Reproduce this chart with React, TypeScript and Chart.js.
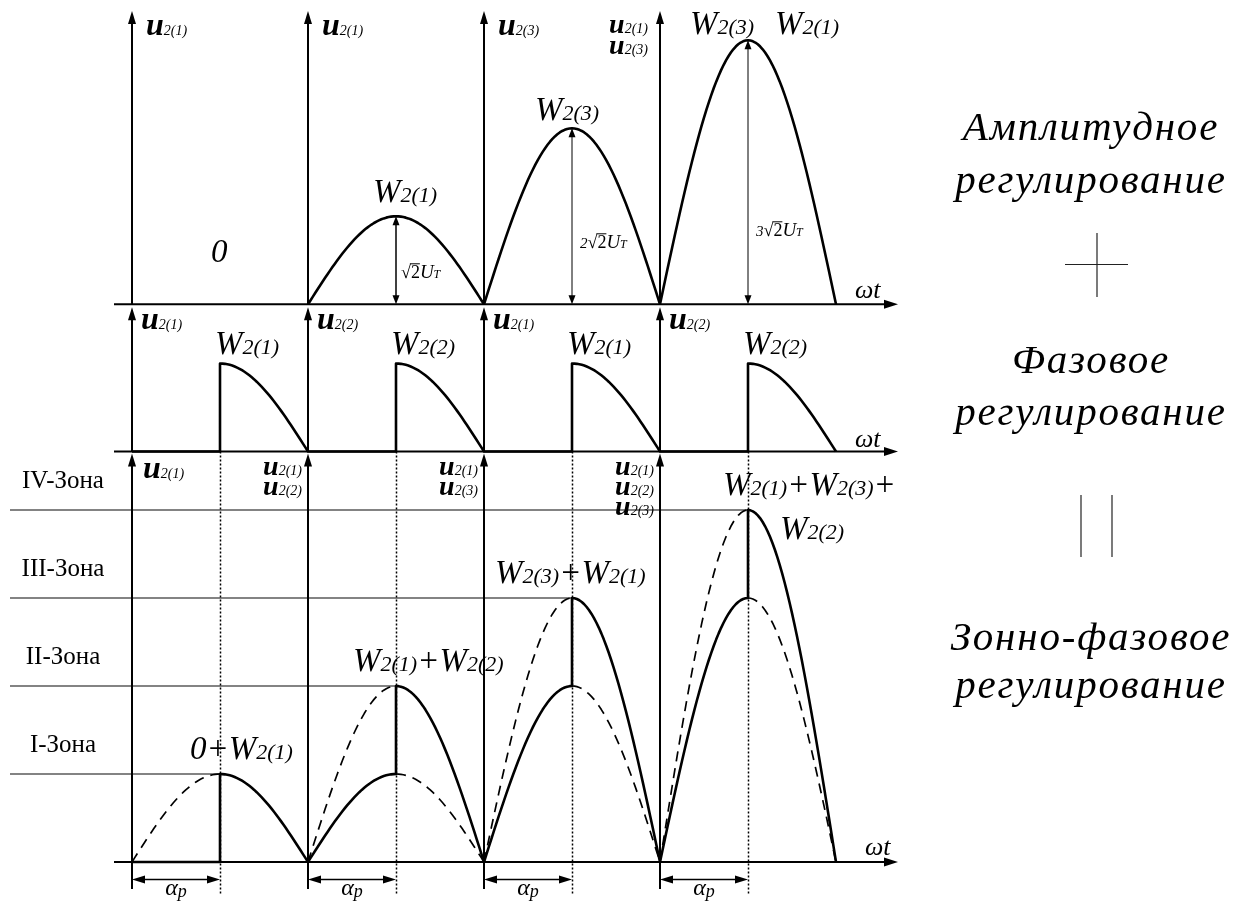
import { useEffect, useRef } from "react";
import { Chart, registerables } from "chart.js";

Chart.register(...registerables);

const WIDTH = 1247;
const HEIGHT = 903;

// ---------------- data ----------------
// control intervals, ωt measured in half-periods (units of π)
const halfPeriods = [0, 1, 2, 3];
// control angle αp, in half-periods
const firingAngle = 0.5;
// amplitude regulation: output amplitude of each interval, in units of √2·U_T
const amplitudeLevels = [0, 1, 2, 3];
// phase regulation: amplitude of the conducting winding
const phaseLevels = [1, 1, 1, 1];
// zone-phase regulation: amplitude before / after the firing instant
const zoneLow = [0, 1, 2, 3];
const zoneHigh = [1, 2, 3, 4];
const zoneNames = ["I-Зона", "II-Зона", "III-Зона", "IV-Зона"];

const amplitudeAxisLabels = [["u2(1)"], ["u2(1)"], ["u2(3)"], ["u2(1)", "u2(3)"]];
const amplitudePeakLabels = [["0"], ["W2(1)"], ["W2(3)"], ["W2(3)", "W2(1)"]];
const phaseAxisLabels = ["u2(1)", "u2(2)", "u2(1)", "u2(2)"];
const phasePeakLabels = ["W2(1)", "W2(2)", "W2(1)", "W2(2)"];
const zoneAxisLabels = [["u2(1)"], ["u2(1)", "u2(2)"], ["u2(1)", "u2(3)"], ["u2(1)", "u2(2)", "u2(3)"]];
const zonePeakLabels = [["0+W2(1)"], ["W2(1)+W2(2)"], ["W2(3)+W2(1)"], ["W2(1)+W2(3)+", "W2(2)"]];
const modeTitles = [
  ["Амплитудное", "регулирование"],
  ["Фазовое", "регулирование"],
  ["Зонно-фазовое", "регулирование"],
];
const timeLabel = "ωt";
const angleLabel = ["α", "p"];

// ---------------- layout ----------------
const ORIGIN_PX = 132; // pixel of ωt = 0
const HALF_PX = 176; // pixels per half-period
const BASE_PX = 862; // pixel of the lowest time axis
const UNIT_PX = 88; // pixels per √2·U_T

const X_MIN = -ORIGIN_PX / HALF_PX;
const X_MAX = (WIDTH - ORIGIN_PX) / HALF_PX;
const Y_MIN = -(HEIGHT - BASE_PX) / UNIT_PX;
const Y_MAX = BASE_PX / UNIT_PX;

// vertical offsets of the three stacked diagrams (value units)
const BASE_ZONE = 0;
const BASE_PHASE = (BASE_PX - 451.5) / UNIT_PX;
const BASE_AMP = (BASE_PX - 304.3) / UNIT_PX;

const SERIF = '"Liberation Serif", "Times New Roman", serif';
const font = (style: string, size: number) => `${style} ${size}px ${SERIF}`;
const U_BIG = font("italic bold", 32);
const U_SMALL = font("italic bold", 28);
const U_SUB = font("italic", 14);
const W_MAIN = font("italic", 33);
const W_SUB = font("italic", 22);

// ---------------- curve helpers ----------------
type Pt = { x: number; y: number | null };
const STEPS = 72;

function sineArc(k: number, from: number, to: number, amp: number, base: number): Pt[] {
  const n = Math.max(2, Math.round((to - from) * STEPS));
  const pts: Pt[] = [];
  for (let i = 0; i <= n; i++) {
    const p = from + ((to - from) * i) / n;
    pts.push({ x: k + p, y: base + amp * Math.sin(Math.PI * p) });
  }
  return pts;
}
const gap = (x: number): Pt => ({ x, y: null });

function amplitudeCurve(): Pt[] {
  const pts: Pt[] = [];
  halfPeriods.forEach((k, i) => {
    if (amplitudeLevels[i] > 0) pts.push(...sineArc(k, 0, 1, amplitudeLevels[i], BASE_AMP), gap(k + 1));
  });
  return pts;
}

function phaseCurve(): Pt[] {
  const pts: Pt[] = [];
  halfPeriods.forEach((k, i) => {
    pts.push({ x: k, y: BASE_PHASE }, { x: k + firingAngle, y: BASE_PHASE });
    pts.push(...sineArc(k, firingAngle, 1, phaseLevels[i], BASE_PHASE));
  });
  return pts;
}

function zoneSolid(): Pt[] {
  const pts: Pt[] = [];
  halfPeriods.forEach((k, i) => {
    pts.push(...sineArc(k, 0, firingAngle, zoneLow[i], BASE_ZONE));
    pts.push(...sineArc(k, firingAngle, 1, zoneHigh[i], BASE_ZONE));
  });
  return pts;
}

function zoneDashed(): Pt[] {
  const pts: Pt[] = [];
  halfPeriods.forEach((k, i) => {
    pts.push(...sineArc(k, 0, firingAngle, zoneHigh[i], BASE_ZONE), gap(k + firingAngle));
    if (zoneLow[i] > 0) pts.push(...sineArc(k, firingAngle, 1, zoneLow[i], BASE_ZONE), gap(k + 1));
  });
  return pts;
}

// ---------------- text helpers ----------------
type Run = { text: string; font: string; dy?: number; overline?: boolean };

function symbolRuns(label: string, uFont: string): Run[] {
  const runs: Run[] = [];
  const re = /([Wu])(\d\(\d\))|([^Wu]+)/g;
  let m: RegExpExecArray | null;
  while ((m = re.exec(label))) {
    if (m[1] === "u") runs.push({ text: "u", font: uFont }, { text: m[2], font: U_SUB });
    else if (m[1] === "W") runs.push({ text: "W", font: W_MAIN }, { text: m[2], font: W_SUB });
    else runs.push({ text: m[3], font: W_MAIN });
  }
  return runs;
}

function drawRuns(ctx: CanvasRenderingContext2D, runs: Run[], x: number, y: number, align = "left") {
  const widths = runs.map((r) => {
    ctx.font = r.font;
    return ctx.measureText(r.text).width;
  });
  const total = widths.reduce((a, b) => a + b, 0);
  let cx = align === "left" ? x : align === "right" ? x - total : x - total / 2;
  ctx.textAlign = "left";
  ctx.textBaseline = "alphabetic";
  runs.forEach((r, i) => {
    ctx.font = r.font;
    ctx.fillText(r.text, cx, y + (r.dy || 0));
    if (r.overline) {
      ctx.beginPath();
      ctx.lineWidth = 1;
      ctx.moveTo(cx - 1, y - 14.5);
      ctx.lineTo(cx + widths[i], y - 14.5);
      ctx.stroke();
    }
    cx += widths[i];
  });
}

function arrowHead(ctx: CanvasRenderingContext2D, tx: number, ty: number, dx: number, dy: number, len: number, half: number) {
  const bx = tx - dx * len;
  const by = ty - dy * len;
  ctx.beginPath();
  ctx.moveTo(tx, ty);
  ctx.lineTo(bx - dy * half, by + dx * half);
  ctx.lineTo(bx + dy * half, by - dx * half);
  ctx.closePath();
  ctx.fill();
}

function line(ctx: CanvasRenderingContext2D, x1: number, y1: number, x2: number, y2: number) {
  ctx.beginPath();
  ctx.moveTo(x1, y1);
  ctx.lineTo(x2, y2);
  ctx.stroke();
}

// snap a coordinate to the pixel centre so thin lines stay crisp
const crisp = (v: number) => Math.round(v - 0.5) + 0.5;

// ---------------- axes, grid and annotation plugin ----------------
const diagramPlugin = {
  id: "regulationDiagram",
  beforeDatasetsDraw(chart: any) {
    const ctx: CanvasRenderingContext2D = chart.ctx;
    const X = (v: number) => chart.scales.x.getPixelForValue(v);
    const Y = (v: number) => chart.scales.y.getPixelForValue(v);
    ctx.save();
    ctx.strokeStyle = "#000";
    ctx.fillStyle = "#000";

    // zone boundaries
    ctx.strokeStyle = "#5a5a5a";
    ctx.lineWidth = 1.3;
    zoneHigh.forEach((lvl, i) => line(ctx, 10, Y(lvl), X(halfPeriods[i] + firingAngle), Y(lvl)));

    // firing instants
    ctx.strokeStyle = "#000";
    ctx.lineWidth = 1.5;
    ctx.setLineDash([2, 2]);
    halfPeriods.forEach((k) => {
      const x = crisp(X(k + firingAngle));
      line(ctx, x, Y(BASE_PHASE), x, 894);
    });
    ctx.setLineDash([]);

    // time axes
    ctx.lineWidth = 2;
    [BASE_AMP, BASE_PHASE, BASE_ZONE].forEach((b) => {
      line(ctx, 114, Y(b), 886, Y(b));
      arrowHead(ctx, 898, Y(b), 1, 0, 14, 4.5);
    });

    // voltage axes
    halfPeriods.forEach((k) => {
      const x = X(k);
      line(ctx, x, Y(BASE_AMP), x, 22);
      arrowHead(ctx, x, 11, 0, -1, 13, 4);
      line(ctx, x, Y(BASE_PHASE), x, Y(BASE_AMP) + 14);
      arrowHead(ctx, x, Y(BASE_AMP) + 3, 0, -1, 13, 4);
      line(ctx, x, 889, x, Y(BASE_PHASE) + 13);
      arrowHead(ctx, x, Y(BASE_PHASE) + 2, 0, -1, 13, 4);
    });
    ctx.restore();
  },
  afterDatasetsDraw(chart: any) {
    const ctx: CanvasRenderingContext2D = chart.ctx;
    const X = (v: number) => chart.scales.x.getPixelForValue(v);
    const Y = (v: number) => chart.scales.y.getPixelForValue(v);
    ctx.save();
    ctx.strokeStyle = "#000";
    ctx.fillStyle = "#000";

    // ---- amplitude regulation ----
    amplitudeAxisLabels.forEach((lines, i) => {
      const x = X(halfPeriods[i]);
      if (lines.length === 1) drawRuns(ctx, symbolRuns(lines[0], U_BIG), x + 14, 35);
      else lines.forEach((s, j) => drawRuns(ctx, symbolRuns(s, U_SMALL), x - 12, 33 + j * 21, "right"));
    });
    const ampLabelDx = [[-9], [-23], [-37], [-58, 27]];
    const ampLabelRise = [0, 14, 8, 6];
    amplitudePeakLabels.forEach((labels, i) => {
      const k = halfPeriods[i];
      const a = amplitudeLevels[i];
      const yb = a > 0 ? Y(BASE_AMP + a) - ampLabelRise[i] : Y(BASE_AMP) - 42;
      labels.forEach((s, j) => drawRuns(ctx, symbolRuns(s, U_BIG), X(k + 0.5) + ampLabelDx[i][j], yb));
    });
    // amplitude dimension arrows √2·U_T
    const rootRise = [0, 26, 56, 68];
    ctx.lineWidth = 1.5;
    amplitudeLevels.forEach((a, i) => {
      if (a <= 0) return;
      const x = X(halfPeriods[i] + 0.5);
      const y0 = Y(BASE_AMP);
      const y1 = Y(BASE_AMP + a);
      line(ctx, x, y0 - 4, x, y1 + 4);
      arrowHead(ctx, x, y0, 0, 1, 9, 3.5);
      arrowHead(ctx, x, y1, 0, -1, 9, 3.5);
      const runs: Run[] = [];
      if (a > 1) runs.push({ text: String(a), font: font("italic", 15) });
      runs.push({ text: "√", font: font("normal", 18) });
      runs.push({ text: "2", font: font("normal", 18), overline: true });
      runs.push({ text: "U", font: font("italic", 19) });
      runs.push({ text: "T", font: font("italic", 12) });
      drawRuns(ctx, runs, x + (a > 1 ? 8 : 5), y0 - rootRise[i]);
    });
    drawRuns(ctx, [{ text: timeLabel, font: font("italic", 26) }], 855, Y(BASE_AMP) - 6);

    // ---- phase regulation ----
    phaseAxisLabels.forEach((s, i) => drawRuns(ctx, symbolRuns(s, U_BIG), X(halfPeriods[i]) + 9, 329));
    phasePeakLabels.forEach((s, i) => {
      const k = halfPeriods[i];
      drawRuns(ctx, symbolRuns(s, U_BIG), X(k + firingAngle) - 5, Y(BASE_PHASE + phaseLevels[i]) - 10);
    });
    drawRuns(ctx, [{ text: timeLabel, font: font("italic", 26) }], 855, Y(BASE_PHASE) - 5);

    // ---- zone-phase regulation ----
    zoneAxisLabels.forEach((lines, i) => {
      const x = X(halfPeriods[i]);
      if (lines.length === 1) drawRuns(ctx, symbolRuns(lines[0], U_BIG), x + 11, 478);
      else lines.forEach((s, j) => drawRuns(ctx, symbolRuns(s, U_SMALL), x - 6, 475 + j * 20, "right"));
    });
    const zoneLabelDx = [-30, -43, -77, -25];
    zonePeakLabels.forEach((labels, i) => {
      const k = halfPeriods[i];
      const yb = Y(zoneHigh[i]) - 15;
      drawRuns(ctx, symbolRuns(labels[0], U_BIG), X(k + firingAngle) + zoneLabelDx[i], yb);
      if (labels[1]) drawRuns(ctx, symbolRuns(labels[1], U_BIG), X(k + firingAngle) + 32, yb + 44);
    });
    ctx.font = font("normal", 25);
    ctx.textAlign = "center";
    zoneNames.forEach((name, i) => ctx.fillText(name, 63, Y(zoneHigh[i]) - 22));
    drawRuns(ctx, [{ text: timeLabel, font: font("italic", 26) }], 865, Y(BASE_ZONE) - 7);

    // control angle αp
    ctx.lineWidth = 1.5;
    halfPeriods.forEach((k) => {
      const x0 = X(k);
      const x1 = X(k + firingAngle);
      const y = 879.5;
      line(ctx, x0 + 6, y, x1 - 6, y);
      arrowHead(ctx, x0, y, -1, 0, 13, 4);
      arrowHead(ctx, x1, y, 1, 0, 13, 4);
      drawRuns(
        ctx,
        [
          { text: angleLabel[0], font: font("italic", 24) },
          { text: angleLabel[1], font: font("italic", 18), dy: 2 },
        ],
        (x0 + x1) / 2,
        895,
        "center"
      );
    });

    // ---- titles on the right ----
    ctx.font = font("italic", 41);
    ctx.textAlign = "center";
    (ctx as any).letterSpacing = "1.8px";
    const titleBaselines = [
      [140, 193],
      [373, 425],
      [650, 698],
    ];
    modeTitles.forEach((lines, i) => lines.forEach((s, j) => ctx.fillText(s, 1091, titleBaselines[i][j])));
    (ctx as any).letterSpacing = "0px";
    // connectors between the titles
    ctx.strokeStyle = "#222";
    ctx.lineWidth = 1.2;
    line(ctx, 1065, 264.5, 1128, 264.5);
    line(ctx, 1097, 233, 1097, 297);
    line(ctx, 1081, 495, 1081, 557);
    line(ctx, 1112, 495, 1112, 557);
    ctx.restore();
  },
};

export default function App() {
  const ref = useRef<HTMLCanvasElement>(null);

  useEffect(() => {
    const canvas = ref.current;
    if (!canvas) return;
    const base = {
      borderColor: "#000",
      pointRadius: 0,
      tension: 0,
      fill: false,
      spanGaps: false,
      borderJoinStyle: "round" as const,
    };
    const chart = new Chart(canvas, {
      type: "line",
      data: {
        datasets: [
          { ...base, label: "amplitude", data: amplitudeCurve() as any, borderWidth: 2.6 },
          { ...base, label: "phase", data: phaseCurve() as any, borderWidth: 2.6 },
          { ...base, label: "zone dashed", data: zoneDashed() as any, borderWidth: 1.7, borderDash: [10, 7] },
          { ...base, label: "zone", data: zoneSolid() as any, borderWidth: 2.6 },
        ],
      },
      options: {
        animation: false,
        responsive: false,
        events: [],
        layout: { padding: 0 },
        plugins: { legend: { display: false }, tooltip: { enabled: false } },
        scales: {
          x: { type: "linear", display: false, min: X_MIN, max: X_MAX },
          y: { type: "linear", display: false, min: Y_MIN, max: Y_MAX },
        },
      },
      plugins: [diagramPlugin],
    });
    return () => chart.destroy();
  }, []);

  return (
    <div style={{ position: "fixed", left: 0, top: 0, width: WIDTH, height: HEIGHT, background: "#fff" }}>
      <canvas ref={ref} width={WIDTH} height={HEIGHT} style={{ display: "block", width: WIDTH, height: HEIGHT }} />
    </div>
  );
}
